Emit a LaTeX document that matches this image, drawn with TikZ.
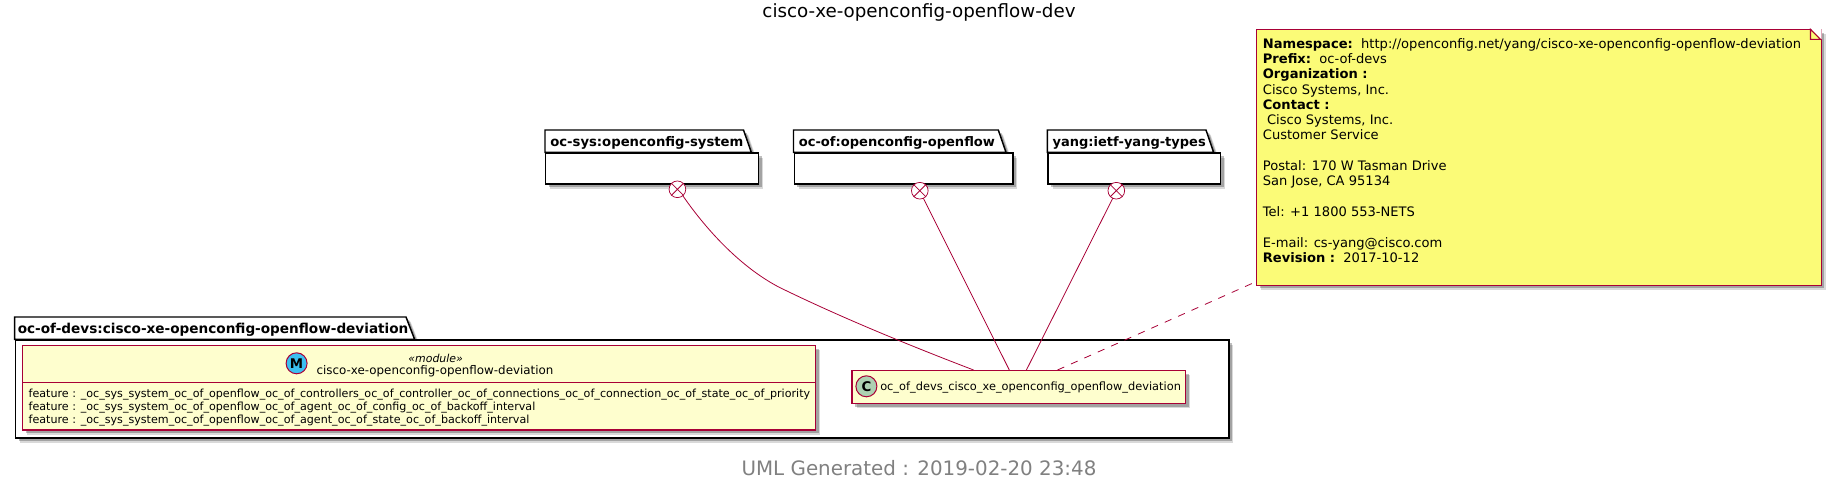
\documentclass[tikz,border=0pt]{standalone}
\usepackage{fontspec}
\setmainfont{DejaVu Sans}
\usetikzlibrary{shadows}
\definecolor{umlred}{HTML}{A80036}
\definecolor{umlfill}{HTML}{FEFECE}
\definecolor{umlnote}{HTML}{FBFB77}
\definecolor{umlclass}{HTML}{ADD1B2}
\definecolor{umlmod}{HTML}{3BBFF0}
\tikzset{
	softshadow/.style={drop shadow={shadow xshift=3.4pt,shadow yshift=-3.4pt,opacity=0.15,fill=black},drop shadow={shadow xshift=2.4pt,shadow yshift=-2.4pt,opacity=0.25,fill=black}},
	pkgbody/.style={draw=black,line width=1.1pt,fill=white,anchor=north west,inner sep=0pt,softshadow},
	pkgtab/.style={draw=black,line width=1.1pt,fill=white,softshadow},
	pkglabel/.style={anchor=west,inner sep=0pt,font=\fontsize{#1}{11}\selectfont\bfseries},
	umlbox/.style={draw=umlred,line width=1.1pt,fill=umlfill,anchor=north west,inner sep=0pt,softshadow},
	stereo/.style={circle,draw=umlred,line width=0.75pt,inner sep=0pt,minimum size=15.75pt,font=\fontsize{10}{12}\selectfont\bfseries},
	lollipop/.style={circle,draw=umlred,line width=0.55pt,fill=white,inner sep=0pt,minimum size=12.5pt},
	link/.style={draw=umlred,line width=0.6pt},
	boxtext/.style={inner sep=0pt,font=\fontsize{#1}{10}\selectfont},
}
\begin{document}
\begin{tikzpicture}[x=0.75pt,y=0.75pt,yscale=-1,xscale=1]
	\useasboundingbox (0,0) rectangle (1831,487);
	\node (title) [inner sep=0pt,font=\fontsize{13.7}{16}\selectfont] at (919,12.5) {cisco-xe-openconfig-openflow-dev};
	% imported packages
	\draw [pkgtab] (545,152.3) -- (545,130) -- (743.5,130) -- (751.3,152.3) -- cycle;
	\node (ofsys) [pkgbody,minimum width=159.75pt,minimum height=23.25pt] at (545,152.3) {};
	\node (ofsyslabel) [pkglabel=9.9] at (550,142.7) {oc-sys:openconfig-system};
	\draw [pkgtab] (793.5,152.3) -- (793.5,130) -- (998.3,130) -- (1006,152.3) -- cycle;
	\node (ofof) [pkgbody,minimum width=163.9pt,minimum height=23.25pt] at (793.5,152.3) {};
	\node (ofoflabel) [pkglabel=9.8] at (798.5,142.7) {oc-of:openconfig-openflow};
	\draw [pkgtab] (1047.4,152.3) -- (1047.4,130) -- (1206,130) -- (1213.6,152.3) -- cycle;
	\node (yangtypes) [pkgbody,minimum width=129.45pt,minimum height=23.25pt] at (1047.4,152.3) {};
	\node (yanglabel) [pkglabel=9.75] at (1052.4,142.7) {yang:ietf-yang-types};
	% deviation package
	\draw [pkgtab] (14.7,339.3) -- (14.7,317) -- (406,317) -- (414.6,339.3) -- cycle;
	\node (devs) [pkgbody,minimum width=910pt,minimum height=73.5pt] at (14.7,339.3) {};
	\node (devslabel) [pkglabel=10.2] at (17.5,329.3) {oc-of-devs:cisco-xe-openconfig-openflow-deviation};
	% module box
	\node (modbox) [umlbox,minimum width=594.75pt,minimum height=63.45pt] at (22,344.7) {};
	\draw [draw=umlred,line width=0.75pt] (22,382) -- (815,382);
	\node (modcircle) [stereo,fill=umlmod] at (296.6,363.3) {M};
	\node (modstereo) [inner sep=0pt,font=\fontsize{8.2}{10}\selectfont\itshape] at (435.7,358) {«module»};
	\node (modname) [boxtext=8.9] at (435,371.7) {cisco-xe-openconfig-openflow-deviation};
	\node (feata) [boxtext=8.34,anchor=west] at (28.4,394.8) {feature : \_oc\_sys\_system\_oc\_of\_openflow\_oc\_of\_controllers\_oc\_of\_controller\_oc\_of\_connections\_oc\_of\_connection\_oc\_of\_state\_oc\_of\_priority};
	\node (featb) [boxtext=8.34,anchor=west] at (28.4,408) {feature : \_oc\_sys\_system\_oc\_of\_openflow\_oc\_of\_agent\_oc\_of\_config\_oc\_of\_backoff\_interval};
	\node (featc) [boxtext=8.34,anchor=west] at (28.4,420.8) {feature : \_oc\_sys\_system\_oc\_of\_openflow\_oc\_of\_agent\_oc\_of\_state\_oc\_of\_backoff\_interval};
	% class box
	\node (cls) [umlbox,minimum width=250.2pt,minimum height=24.5pt] at (851.4,370) {};
	\node (clscircle) [stereo,fill=umlclass] at (866.4,386.3) {C};
	\node (clsname) [boxtext=8.53,anchor=west] at (880,387.5) {oc\_of\_devs\_cisco\_xe\_openconfig\_openflow\_deviation};
	% note
	\node (note) [umlbox,draw=umlred,line width=0.8pt,fill=umlnote,minimum width=423.4pt,minimum height=191.55pt] at (1256,29.3) {};
	\fill [white] (1810.5,28.5) -- (1821.5,28.5) -- (1821.5,39.3) -- cycle;
	\draw [draw=umlred,line width=0.8pt,fill=umlnote] (1810.5,29.3) -- (1810.5,39.3) -- (1820.5,39.3) -- cycle;
	\node (notetext) [anchor=north west,inner sep=0pt,align=left,font=\fontsize{9.8}{11.47}\selectfont] at (1262.6,38) {\textbf{Namespace:}\ \ http://openconfig.net/yang/cisco-xe-openconfig-openflow-deviation\\
	\textbf{Prefix:}\ \ oc-of-devs\\
	\textbf{Organization :}\\
	Cisco Systems, Inc.\\
	\textbf{Contact :}\\
	\ Cisco Systems, Inc.\\
	Customer Service\\[11.47pt]
	Postal: 170 W Tasman Drive\\
	San Jose, CA 95134\\[11.47pt]
	Tel: +1 1800 553-NETS\\[11.47pt]
	E-mail: cs-yang@cisco.com\\
	\textbf{Revision :}\ \ 2017-10-12};
	% connectors
	\node (lolsys) [lollipop] at (677.4,189.3) {};
	\node (lolof) [lollipop] at (919.8,190.7) {};
	\node (lolyang) [lollipop] at (1116.3,190.7) {};
	\draw [link] (lolsys.45) -- (lolsys.225) (lolsys.135) -- (lolsys.315);
	\draw [link] (lolof.45) -- (lolof.225) (lolof.135) -- (lolof.315);
	\draw [link] (lolyang.45) -- (lolyang.225) (lolyang.135) -- (lolyang.315);
	\coordinate (clsa) at (973.6,370);
	\coordinate (clsb) at (1009.3,370);
	\coordinate (clsc) at (1026.4,370);
	\coordinate (clsd) at (1057.5,370);
	\coordinate (notefoot) at (1256,281.7);
	\draw [link] (lolsys.-50) .. controls (710,235) and (745,270) .. (780.7,288) .. controls (830,312) and (890,338) .. (clsa);
	\draw [link] (lolof) ++(3.6,7.6) -- (clsb);
	\draw [link] (lolyang) ++(-3.6,7.6) -- (clsc);
	\draw [link,dashed,dash pattern=on 5.5pt off 5.5pt] (clsd) -- (notefoot);
	\node (footer) [inner sep=0pt,text=black!50,font=\fontsize{14.9}{18}\selectfont] at (919,468.5) {UML Generated : 2019-02-20 23:48};
\end{tikzpicture}
\end{document}
